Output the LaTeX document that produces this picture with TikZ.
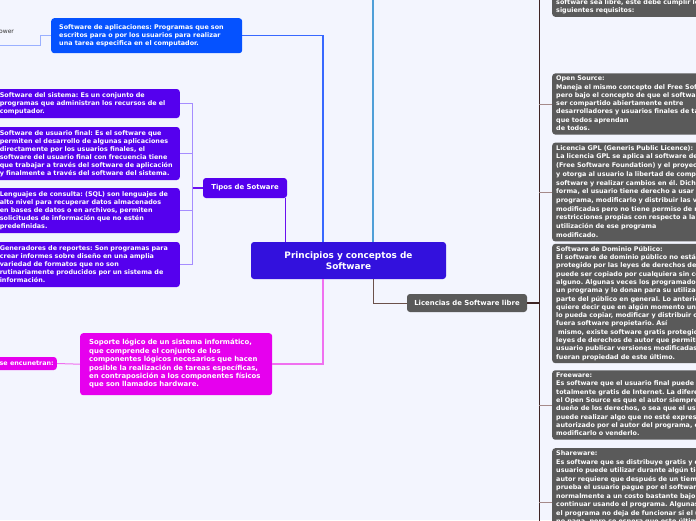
\documentclass[tikz,border=0pt]{standalone}
\usepackage{fontspec}
\setmainfont{DejaVu Sans}
\usetikzlibrary{calc}
\frenchspacing
\definecolor{bg}{HTML}{F3F5FE}
\definecolor{appblue}{HTML}{0552FF}
\definecolor{purp}{HTML}{5500EE}
\definecolor{centralc}{HTML}{3311DD}
\definecolor{mag}{HTML}{E600EE}
\definecolor{gry}{HTML}{5A5A5A}
\definecolor{blueline}{HTML}{3868FF}
\definecolor{lightblue}{HTML}{4F9FD8}
\definecolor{purpline}{HTML}{6A10F0}
\definecolor{lpurp}{HTML}{A58CFF}
\definecolor{magline}{HTML}{F070F0}
\definecolor{brownline}{HTML}{6B514B}
\definecolor{lictrunk}{HTML}{3F2525}
\definecolor{licbr}{HTML}{A58A8A}
\definecolor{appline}{HTML}{9AB0FF}
\newcommand\lns[1]{\begin{tabular}{@{}l@{}}#1\end{tabular}}
\tikzset{
  base/.style={rounded corners=3pt, text=white, font=\bfseries\fontsize{6.4}{8}\selectfont\frenchspacing, inner xsep=8pt, inner ysep=2.5pt},
  appbox/.style={base, fill=appblue, text width=175pt, inner ysep=5.5pt},
  purbox/.style={base, fill=purp, text width=172pt},
  magbox/.style={base, fill=mag, text width=174pt, inner xsep=9pt, inner ysep=5.8pt, font=\bfseries\fontsize{6.9}{8.4}\selectfont\frenchspacing},
  graybox/.style={base, fill=gry, text width=200pt, inner xsep=4pt, inner ysep=1.5pt, font=\bfseries\fontsize{6.4}{8.3}\selectfont\frenchspacing},
  topicbox/.style={base, inner sep=0pt, align=center, font=\bfseries\fontsize{6.9}{8}\selectfont},
  mainline/.style={line width=1.5pt},
  branchline/.style={line width=1pt},
}
\begin{document}
\begin{tikzpicture}[x=1pt,y=-1pt]
\fill[bg] (0,0) rectangle (696,520);
\useasboundingbox (0,0) rectangle (696,520);
\begin{scope}
\clip (0,0) rectangle (696,520);
\coordinate (top) at (0,-5);
\coordinate (bottom) at (0,525);

% central
\node[base, fill=centralc, minimum width=195pt, minimum height=37pt, align=center, inner sep=0pt,
      font=\bfseries\fontsize{8.9}{11}\selectfont] (central) at (348.5,260.5) {Principios y conceptos de\\Software};

% left-top application node
\node[appbox, anchor=north west] (app) at (51,18) {\lns{Software de aplicaciones: Programas que son\\escritos para o por los usuarios para realizar\\una tarea especifica en el computador.}};
\node[anchor=west, inner sep=0pt, text=black!80, font=\fontsize{6}{7}\selectfont] (pw) at (-1,32) {ower};
\coordinate (pwl) at (0,45);

% tipos
\node[topicbox, fill=purp, minimum width=84pt, minimum height=20pt] (tipos) at (245,188) {Tipos de Sotware};
\node[purbox, anchor=east] (sys) at (180,103.5) {\lns{Software del sistema: Es un conjunto de\\programas que administran los recursos de el\\computador.}};
\node[purbox, anchor=east] (usr) at (180,153.5) {\lns{Software de usuario final: Es el software que\\permiten el desarrollo de algunas aplicaciones\\directamente por los usuarios finales, el\\software del usuario final con frecuencia tiene\\que trabajar a través del software de aplicación\\y finalmente a través del software del sistema.}};
\node[purbox, anchor=east] (sql) at (180,210.5) {\lns{Lenguajes de consulta: (SQL) son lenguajes de\\alto nivel para recuperar datos almacenados\\en bases de datos o en archivos, permiten\\solicitudes de información que no estén\\predefinidas.}};
\node[purbox, anchor=east] (rep) at (180,264.5) {\lns{Generadores de reportes: Son programas para\\crear informes sobre diseño en una amplia\\variedad de formatos que no son\\rutinariamente producidos por un sistema de\\información.}};

% soporte
\node[magbox, anchor=north west] (sop) at (80,333) {\lns{Soporte lógico de un sistema informático,\\que comprende el conjunto de los\\componentes lógicos necesarios que hacen\\posible la realización de tareas específicas,\\en contraposición a los componentes físicos\\que son llamados hardware.}};
\node[base, fill=mag, anchor=east, inner xsep=3pt, inner ysep=0pt, minimum height=13pt] (enc) at (57,363.5) {se encunetran:};

% licencias
\node[topicbox, fill=gry, minimum width=120pt, minimum height=18pt] (lic) at (467,303) {Licencias de Software libre};

\node[graybox, anchor=south west] (r0) at (552,17) {\lns{software sea libre, este debe cumplir los\\siguientes requisitos:}};
\node[graybox, anchor=west] (os) at (552,104) {\lns{Open Source:\\Maneja el mismo concepto del Free Software\\pero bajo el concepto de que el software debe\\ser compartido abiertamente entre\\desarrolladores y usuarios finales de tal forma\\que todos aprendan\\de todos.}};
\node[graybox, anchor=west, font=\bfseries\fontsize{6.4}{8.7}\selectfont\frenchspacing] (gpl) at (552,192) {\lns{Licencia GPL (Generis Public Licence):\\La licencia GPL se aplica al software de la FSF\\(Free Software Foundation) y el proyecto GNU\\y otorga al usuario la libertad de compartir el\\software y realizar cambios en él. Dicho de otra\\forma, el usuario tiene derecho a usar el\\programa, modificarlo y distribuir las versiones\\modificadas pero no tiene permiso de realizar\\restricciones propias con respecto a la\\utilización de ese programa\\modificado.}};
\node[graybox, anchor=west] (dom) at (552,303.5) {\lns{Software de Dominio Público:\\El software de dominio público no está\\protegido por las leyes de derechos de autor y\\puede ser copiado por cualquiera sin costo\\alguno. Algunas veces los programadores crean\\un programa y lo donan para su utilización por\\parte del público en general. Lo anterior no\\quiere decir que en algún momento un usuario\\lo pueda copiar, modificar y distribuir como si\\fuera software propietario. Así\\\hspace*{1.8pt}mismo, existe software gratis protegido por\\leyes de derechos de autor que permite al\\usuario publicar versiones modificadas como si\\fueran propiedad de este último.}};
\node[graybox, anchor=west] (free) at (552,405) {\lns{Freeware:\\Es software que el usuario final puede bajar\\totalmente gratis de Internet. La diferencia con\\el Open Source es que el autor siempre es el\\dueño de los derechos, o sea que el usuario no\\puede realizar algo que no esté expresamente\\autorizado por el autor del programa, como\\modificarlo o venderlo.}};
\node[graybox, anchor=north west, font=\bfseries\fontsize{6.4}{8.5}\selectfont\frenchspacing] (share) at (552,448) {\lns{Shareware:\\Es software que se distribuye gratis y que el\\usuario puede utilizar durante algún tiempo. El\\autor requiere que después de un tiempo de\\prueba el usuario pague por el software,\\normalmente a un costo bastante bajo, para\\continuar usando el programa. Algunas veces\\el programa no deja de funcionar si el usuario\\no paga, pero se espera que este último pague}};
\coordinate (shb) at (552,502);

% connectors from central
\draw[mainline, blueline] (app.east) -| ([xshift=-25.5pt]central.north);
\draw[mainline, lightblue] ([xshift=24.5pt]central.north) -- ([xshift=24.5pt]central.north |- top);
\draw[mainline, purpline] ([xshift=-1.5pt]tipos.south east) -- ([xshift=-1.5pt]tipos.south east |- central.north);
\draw[mainline, magline] (sop.east) -| ([xshift=-25.5pt]central.south);
\draw[branchline, brownline] ([xshift=24.5pt]central.south) |- (lic.west);

% app left connector
\draw[branchline, appline] (app.west) -- ++(-11,0) |- (pwl);

% tipos branches
\draw[mainline, purpline] (tipos.west) -- ++(-10,0) coordinate (tj);
\draw[branchline, lpurp] (tj |- sys.east) -- (tj |- rep.east);
\foreach \n in {sys,usr,sql,rep} \draw[branchline, lpurp] (\n.east) -- (tj |- \n.east);

% soporte left
\draw[branchline, magline] (sop.west) -- (enc.east);

% licencias branches
\draw[mainline, lictrunk] (lic.east) -- ++(12,0) coordinate (lj);
\draw[branchline, lictrunk] (lj |- top) -- (lj |- bottom);
\foreach \n in {os,gpl,free} \draw[branchline, licbr] (lj |- \n.west) -- (\n.west);
\draw[branchline, licbr] (lj |- shb) -- (shb);
\end{scope}
\end{tikzpicture}
\end{document}
